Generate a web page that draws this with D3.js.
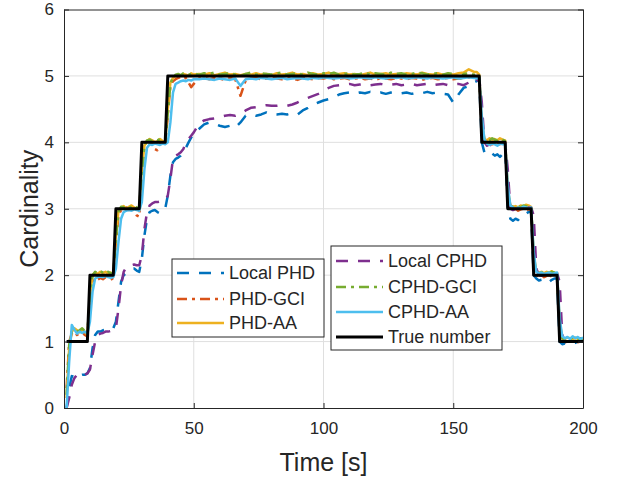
<!DOCTYPE html>
<html>
<head>
<meta charset="utf-8">
<script src="https://cdn.jsdelivr.net/npm/d3@7"></script>
<style>
	body { margin: 0; background: #ffffff; }
	text { font-family: "Liberation Sans", Arial, Helvetica, sans-serif; fill: #262626; }
</style>
</head>
<body>
<svg id="chart" width="618" height="478"></svg>
<script>

// time samples [s]
var time = [
	1, 2, 3, 4, 5, 6, 7, 8, 9, 10, 11, 12, 13, 14, 15, 16, 17, 18, 19, 20,
	21, 22, 23, 24, 25, 26, 27, 28, 29, 30, 31, 32, 33, 34, 35, 36, 37, 38, 39, 40,
	41, 42, 43, 44, 45, 46, 47, 48, 49, 50,
	52, 54, 56, 58, 60, 62, 64, 66, 68, 70, 72, 74, 76, 78, 80, 82, 84, 86, 88, 90,
	92, 94, 96, 98, 100, 102, 104, 106, 108, 110, 112, 114, 116, 118, 120, 122, 124, 126, 128, 130,
	132, 134, 136, 138, 140, 142, 144, 146, 148, 150, 152, 154, 156, 158,
	159, 160, 161, 162, 163, 164, 165, 166, 167, 168, 169, 170, 171, 172, 173, 174, 175, 176, 177, 178,
	179, 180, 181, 182, 183, 184, 185, 186, 187, 188, 189, 190, 191, 192, 193, 194, 195, 196, 197, 198,
	199, 200
];

var localPHD = [
	0.0, 0.3, 0.48, 0.47, 0.45, 0.48, 0.5, 0.5, 0.52, 0.6,
	0.9, 1.1, 1.15, 1.15, 1.17, 1.18, 1.18, 1.2, 1.2, 1.3,
	1.6, 1.9, 2.0, 2.03, 2.05, 2.08, 2.1, 2.07, 2.05, 2.25,
	2.6, 2.85, 2.95, 2.97, 2.98, 2.95, 2.93, 2.97, 3.0, 3.2,
	3.5, 3.7, 3.75, 3.77, 3.8, 3.85, 3.92, 4.0, 4.07, 4.13,
	4.2, 4.27, 4.3, 4.28, 4.25, 4.23, 4.25, 4.22, 4.3, 4.4,
	4.42, 4.4, 4.42, 4.45, 4.42, 4.42, 4.43, 4.42, 4.44, 4.42,
	4.48, 4.52, 4.57, 4.6, 4.63, 4.65, 4.68, 4.72, 4.74, 4.75,
	4.73, 4.75, 4.74, 4.76, 4.74, 4.75, 4.73, 4.75, 4.76, 4.74,
	4.75, 4.73, 4.75, 4.74, 4.76, 4.74, 4.75, 4.73, 4.72, 4.6,
	4.72, 4.82, 4.85, 4.9,
	4.92, 4.95,
	4.0, 3.85, 3.82, 3.85, 3.83, 3.8, 3.82, 3.78, 3.82, 3.9,
	3.0, 2.85, 2.82, 2.85, 2.83, 2.88, 2.9, 2.92, 2.95, 2.95,
	2.0, 1.95, 1.92, 1.93, 1.9, 1.92, 1.9, 1.93, 1.95, 1.95,
	1.0, 0.96, 0.97, 0.95, 0.96, 0.97, 0.98, 1.0, 1.0, 1.0
];

var phdGCI = [
	0.3, 1.0, 1.12, 1.15, 1.1, 1.12, 1.15, 1.1, 1.08, 1.5,
	1.9, 1.95, 1.93, 1.96, 1.94, 1.97, 1.95, 1.93, 1.96, 2.5,
	2.9, 2.98, 3.0, 3.02, 2.98, 3.0, 2.97, 2.9, 2.88, 3.5,
	3.95, 4.02, 4.0, 3.97, 3.9, 3.88, 3.97, 4.0, 3.98, 4.4,
	4.85, 4.92, 4.95, 4.97, 4.98, 4.95, 4.97, 4.9, 4.83, 4.88,
	4.96, 4.97, 4.95, 4.97, 4.96, 4.94, 4.97, 4.95, 4.7, 4.93,
	4.96, 4.97, 4.95, 4.96, 4.98, 4.96, 4.95, 4.97, 4.96, 4.94,
	4.97, 4.96, 4.95, 4.97, 4.96, 4.98, 4.95, 4.96, 4.97, 4.95,
	4.96, 4.97, 4.95, 4.96, 4.94, 4.97, 4.96, 4.95, 4.97, 4.96,
	4.95, 4.97, 4.96, 4.94, 4.96, 4.97, 4.95, 4.96, 4.97, 4.95,
	4.96, 4.97, 4.98, 4.97,
	4.96, 4.97,
	4.2, 4.0, 3.98, 4.0, 3.97, 3.99, 4.0, 3.97, 3.98, 3.98,
	3.2, 3.0, 2.98, 3.0, 2.97, 2.99, 3.0, 2.98, 2.99, 2.98,
	2.2, 2.0, 1.98, 2.0, 1.97, 1.99, 2.0, 1.98, 1.99, 1.98,
	1.2, 1.0, 0.99, 1.0, 0.98, 1.0, 1.01, 0.99, 1.0, 1.0
];

var phdAA = [
	0.15, 0.9, 1.15, 1.2, 1.17, 1.14, 1.18, 1.15, 1.1, 1.7,
	2.0, 2.04, 2.02, 2.05, 2.03, 2.05, 2.02, 2.04, 2.0, 2.6,
	2.97, 3.02, 3.04, 3.0, 3.03, 3.05, 3.02, 3.0, 2.98, 3.6,
	3.95, 4.02, 4.05, 4.03, 4.0, 4.02, 4.05, 4.02, 4.0, 4.5,
	4.9, 4.97, 5.0, 5.02, 5.0, 5.03, 5.02, 5.0, 5.04, 5.02,
	5.03, 5.02, 5.04, 5.01, 5.03, 5.05, 5.02, 5.03, 5.01, 5.03,
	5.02, 5.04, 5.02, 5.03, 5.01, 5.04, 5.02, 5.03, 5.05, 5.02,
	5.03, 5.01, 5.04, 5.02, 5.03, 5.05, 5.02, 5.03, 5.04, 5.02,
	5.03, 5.01, 5.03, 5.05, 5.02, 5.03, 5.04, 5.02, 5.03, 5.02,
	5.04, 5.03, 5.02, 5.05, 5.03, 5.02, 5.04, 5.02, 5.03, 5.02,
	5.04, 5.05, 5.1, 5.06,
	5.06, 5.02,
	4.3, 4.05, 4.03, 4.06, 4.04, 4.05, 4.03, 4.06, 4.04, 4.03,
	3.3, 3.05, 3.03, 3.04, 3.02, 3.05, 3.03, 3.06, 3.05, 3.03,
	2.3, 2.06, 2.04, 2.05, 2.03, 2.05, 2.04, 2.06, 2.03, 2.03,
	1.3, 1.06, 1.04, 1.06, 1.05, 1.03, 1.06, 1.04, 1.05, 1.03
];

var localCPHD = [
	0.0, 0.15, 0.35, 0.45, 0.5, 0.5, 0.52, 0.5, 0.52, 0.58,
	0.8, 1.0, 1.1, 1.12, 1.13, 1.15, 1.15, 1.16, 1.17, 1.2,
	1.5, 1.85, 2.05, 2.12, 2.15, 2.15, 2.16, 2.15, 2.15, 2.3,
	2.7, 2.95, 3.05, 3.08, 3.1, 3.1, 3.11, 3.12, 3.12, 3.2,
	3.45, 3.75, 3.8, 3.82, 3.85, 3.9, 4.0, 4.05, 4.1, 4.15,
	4.28, 4.33, 4.35, 4.36, 4.38, 4.4, 4.41, 4.4, 4.43, 4.48,
	4.52, 4.53, 4.55, 4.56, 4.55, 4.55, 4.56, 4.55, 4.57, 4.6,
	4.64, 4.67, 4.7, 4.73, 4.77, 4.82, 4.85, 4.86, 4.87, 4.88,
	4.86, 4.87, 4.88, 4.86, 4.87, 4.88, 4.86, 4.87, 4.88, 4.86,
	4.87, 4.88, 4.86, 4.87, 4.88, 4.86, 4.87, 4.88, 4.86, 4.87,
	4.88, 4.86, 4.9, 4.95,
	4.92, 4.97,
	4.6, 4.0, 3.95, 3.97, 3.95, 3.96, 3.97, 3.98, 4.0, 4.0,
	3.6, 3.0, 2.98, 3.0, 2.99, 3.0, 3.01, 3.0, 3.02, 3.02,
	2.9, 2.1, 2.0, 1.99, 2.0, 2.01, 2.0, 2.02, 2.02, 2.03,
	1.9, 1.1, 1.0, 1.0, 1.0, 1.0, 1.0, 1.0, 1.0, 1.0
];

var cphdGCI = [
	0.2, 0.95, 1.15, 1.18, 1.15, 1.17, 1.2, 1.16, 1.12, 1.65,
	2.0, 2.05, 2.03, 2.06, 2.04, 2.02, 2.05, 2.03, 2.01, 2.55,
	2.95, 3.03, 3.02, 3.04, 3.01, 3.03, 3.05, 3.02, 3.0, 3.55,
	3.95, 4.03, 4.04, 4.02, 4.04, 4.03, 4.05, 4.03, 4.01, 4.45,
	4.88, 4.98, 5.02, 5.03, 5.01, 5.04, 5.03, 5.02, 5.03, 5.04,
	5.02, 5.04, 5.03, 5.05, 5.02, 5.03, 5.04, 5.02, 5.0, 5.03,
	5.05, 5.02, 5.04, 5.03, 5.02, 5.04, 5.05, 5.02, 5.03, 5.04,
	5.02, 5.05, 5.03, 5.02, 5.04, 5.03, 5.05, 5.02, 5.03, 5.04,
	5.02, 5.03, 5.05, 5.02, 5.04, 5.03, 5.02, 5.05, 5.03, 5.04,
	5.02, 5.03, 5.05, 5.04, 5.02, 5.03, 5.04, 5.02, 5.04, 5.03,
	4.92, 5.03, 5.04, 5.02,
	5.03, 5.0,
	4.25, 4.04, 4.05, 4.03, 4.06, 4.04, 4.03, 4.05, 4.04, 4.02,
	3.25, 3.04, 3.03, 3.05, 3.04, 3.02, 3.05, 3.04, 3.03, 3.04,
	2.25, 2.05, 2.03, 2.04, 2.06, 2.04, 2.03, 2.05, 2.04, 2.02,
	1.25, 1.05, 1.03, 1.05, 1.04, 1.06, 1.04, 1.03, 1.05, 1.04
];

var cphdAA = [
	0.0, 0.7, 1.25, 1.18, 1.12, 1.15, 1.13, 1.15, 1.12, 1.3,
	1.75, 1.95, 1.97, 1.98, 1.97, 1.99, 1.97, 1.96, 1.97, 2.1,
	2.5, 2.85, 2.95, 2.97, 2.98, 2.97, 2.99, 2.98, 2.97, 3.1,
	3.6, 3.92, 3.97, 3.96, 3.98, 3.97, 3.96, 3.98, 3.97, 4.0,
	4.3, 4.75, 4.88, 4.9, 4.92, 4.93, 4.92, 4.94, 4.93, 4.95,
	4.95, 4.96, 4.95, 4.94, 4.96, 4.95, 4.94, 4.96, 4.85, 4.95,
	4.96, 4.95, 4.97, 4.96, 4.95, 4.96, 4.97, 4.95, 4.96, 4.97,
	4.96, 4.95, 4.97, 4.96, 4.98, 4.97, 4.96, 4.97, 4.98, 4.96,
	4.97, 4.98, 4.97, 4.96, 4.98, 4.97, 4.96, 4.98, 4.97, 4.98,
	4.96, 4.97, 4.98, 4.97, 4.96, 4.98, 4.97, 4.96, 4.97, 4.98,
	4.96, 4.97, 4.98, 4.97,
	4.96, 4.97,
	4.4, 4.05, 3.98, 3.96, 3.98, 3.97, 3.95, 3.98, 3.97, 3.98,
	3.35, 3.05, 3.02, 3.0, 3.02, 3.01, 3.03, 3.02, 3.01, 3.02,
	2.35, 2.05, 2.03, 2.04, 2.02, 2.03, 2.04, 2.02, 2.03, 2.04,
	1.35, 1.08, 1.05, 1.07, 1.04, 1.08, 1.05, 1.07, 1.04, 1.06
];

var trueNumber = [
	1, 1, 1, 1, 1, 1, 1, 1, 1, 2,
	2, 2, 2, 2, 2, 2, 2, 2, 2, 3,
	3, 3, 3, 3, 3, 3, 3, 3, 3, 4,
	4, 4, 4, 4, 4, 4, 4, 4, 4, 5,
	5, 5, 5, 5, 5, 5, 5, 5, 5, 5,
	5, 5, 5, 5, 5, 5, 5, 5, 5, 5,
	5, 5, 5, 5, 5, 5, 5, 5, 5, 5,
	5, 5, 5, 5, 5, 5, 5, 5, 5, 5,
	5, 5, 5, 5, 5, 5, 5, 5, 5, 5,
	5, 5, 5, 5, 5, 5, 5, 5, 5, 5,
	5, 5, 5, 5,
	5, 5,
	4, 4, 4, 4, 4, 4, 4, 4, 4, 4,
	3, 3, 3, 3, 3, 3, 3, 3, 3, 3,
	2, 2, 2, 2, 2, 2, 2, 2, 2, 2,
	1, 1, 1, 1, 1, 1, 1, 1, 1, 1
];

var xTicks = [0, 50, 100, 150, 200];
var yTicks = [0, 1, 2, 3, 4, 5, 6];

var series = [
	{ name: "Local PHD", values: localPHD, color: "#0072BD", dash: "12,10", width: 2.5 },
	{ name: "PHD-GCI", values: phdGCI, color: "#D95319", dash: "10,5,3,5", width: 2.5 },
	{ name: "PHD-AA", values: phdAA, color: "#EDB120", dash: null, width: 2.5 },
	{ name: "Local CPHD", values: localCPHD, color: "#7E2F8E", dash: "12,10", width: 2.5 },
	{ name: "CPHD-GCI", values: cphdGCI, color: "#77AC30", dash: "10,5,3,5", width: 2.5 },
	{ name: "CPHD-AA", values: cphdAA, color: "#4DBEEE", dash: null, width: 2.5 },
	{ name: "True number", values: trueNumber, color: "#000000", dash: null, width: 3 }
];

series.forEach(function(s) {
	if (s.values.length != time.length) {
		throw new Error(s.name + " has " + s.values.length + " values, expected " + time.length);
	}
});

///////////////////////////////////////////////////

var plotLeft = 64, plotRight = 583, plotTop = 9.5, plotBottom = 408;

var svg = d3.select("#chart");

svg.append("rect")
	.attr("width", 618)
	.attr("height", 478)
	.attr("fill", "#ffffff");

var x = d3.scaleLinear()
	.domain([0, 200])
	.range([plotLeft, plotRight]);

var y = d3.scaleLinear()
	.domain([0, 6])
	.range([plotBottom, plotTop]);

svg.append("defs")
	.append("clipPath")
	.attr("id", "plotclip")
	.append("rect")
	.attr("x", plotLeft)
	.attr("y", plotTop)
	.attr("width", plotRight - plotLeft)
	.attr("height", plotBottom - plotTop);

// grid
svg.append("g")
	.selectAll("line")
	.data(xTicks.slice(1, -1))
	.enter()
	.append("line")
	.attr("x1", function(d) { return x(d); })
	.attr("x2", function(d) { return x(d); })
	.attr("y1", plotTop)
	.attr("y2", plotBottom)
	.attr("stroke", "#dfdfdf")
	.attr("stroke-width", 1);

svg.append("g")
	.selectAll("line")
	.data(yTicks.slice(1, -1))
	.enter()
	.append("line")
	.attr("x1", plotLeft)
	.attr("x2", plotRight)
	.attr("y1", function(d) { return y(d); })
	.attr("y2", function(d) { return y(d); })
	.attr("stroke", "#dfdfdf")
	.attr("stroke-width", 1);

// data lines
var line = d3.line()
	.x(function(d, i) { return x(time[i]); })
	.y(function(d) { return y(d); });

svg.append("g")
	.attr("clip-path", "url(#plotclip)")
	.selectAll("path")
	.data(series)
	.enter()
	.append("path")
	.attr("d", function(s) { return line(s.values); })
	.attr("fill", "none")
	.attr("stroke", function(s) { return s.color; })
	.attr("stroke-width", function(s) { return s.width; })
	.attr("stroke-dasharray", function(s) { return s.dash; })
	.attr("stroke-linejoin", "round");

// axes
function styleAxis(g) {
	g.selectAll(".domain")
		.attr("stroke", "#262626")
		.attr("stroke-width", 1);
	g.selectAll(".tick line")
		.attr("stroke", "#262626")
		.attr("stroke-width", 1);
	g.selectAll(".tick text")
		.attr("fill", "#262626")
		.style("font-family", "'Liberation Sans', Arial, Helvetica, sans-serif")
		.style("font-size", "17px");
}

svg.append("g")
	.attr("transform", "translate(0," + plotBottom + ")")
	.call(d3.axisBottom(x).tickValues(xTicks).tickSize(-5).tickSizeOuter(0).tickPadding(14).tickFormat(d3.format("d")))
	.call(styleAxis);

svg.append("g")
	.attr("transform", "translate(0," + plotTop + ")")
	.call(d3.axisTop(x).tickValues(xTicks).tickSize(-5).tickSizeOuter(0).tickFormat(""))
	.call(styleAxis);

svg.append("g")
	.attr("transform", "translate(" + plotLeft + ",0)")
	.call(d3.axisLeft(y).tickValues(yTicks).tickSize(-5).tickSizeOuter(0).tickPadding(10).tickFormat(d3.format("d")))
	.call(styleAxis);

svg.append("g")
	.attr("transform", "translate(" + plotRight + ",0)")
	.call(d3.axisRight(y).tickValues(yTicks).tickSize(-5).tickSizeOuter(0).tickFormat(""))
	.call(styleAxis);

// axis labels
svg.append("text")
	.attr("x", (plotLeft + plotRight) / 2)
	.attr("y", 471)
	.attr("text-anchor", "middle")
	.style("font-size", "25px")
	.text("Time [s]");

svg.append("text")
	.attr("transform", "translate(38," + ((plotTop + plotBottom) / 2) + ") rotate(-90)")
	.attr("text-anchor", "middle")
	.style("font-size", "25px")
	.text("Cardinality");

///////////////////////////////////////////////////
// legends

function drawLegend(items, box, rowY) {
	var g = svg.append("g");
	g.append("rect")
		.attr("x", box[0])
		.attr("y", box[1])
		.attr("width", box[2] - box[0])
		.attr("height", box[3] - box[1])
		.attr("fill", "#ffffff")
		.attr("stroke", "#262626")
		.attr("stroke-width", 1);
	items.forEach(function(s, i) {
		g.append("line")
			.attr("x1", box[0] + 5)
			.attr("x2", box[0] + 52)
			.attr("y1", rowY[i])
			.attr("y2", rowY[i])
			.attr("stroke", s.color)
			.attr("stroke-width", s.width)
			.attr("stroke-dasharray", s.dash);
		g.append("text")
			.attr("x", box[0] + 57)
			.attr("y", rowY[i])
			.attr("dy", "0.36em")
			.style("font-size", "18px")
			.text(s.name);
	});
}

drawLegend(series.slice(0, 3), [172, 259, 324, 337], [273, 299, 323]);
drawLegend(series.slice(3), [331, 246, 502, 350], [261, 287, 312, 337]);

</script>
</body>
</html>
